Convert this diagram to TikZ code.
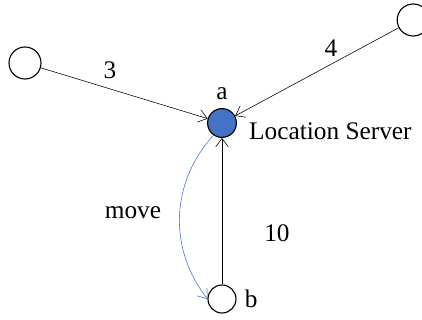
\documentclass[tikz,border=0pt]{standalone}
\usepackage{fontspec}
\setmainfont{Liberation Serif}
\usetikzlibrary{arrows.meta,positioning}

\definecolor{serverblue}{RGB}{68,114,196}
\tikzset{
  host/.style={circle,draw,thick,minimum size=0.8cm,inner sep=0pt},
  server/.style={host,fill=serverblue,minimum size=0.72cm},
  link/.style={-{Straight Barb[length=6pt,width=9pt]}},
}

\begin{document}
\begin{tikzpicture}[font=\fontsize{18}{21}\selectfont]
      \clip (0,0) rectangle (10.55,8);
      \useasboundingbox (0,0) rectangle (10.55,8);
      % Hosts
      \node[server,label={[inner sep=0pt,label distance=6pt]above:a}] (a) at (5.55,4.925) {};
      \node[host] (left) at (0.625,6.425) {};
      \node[host] (right) at (10.33,7.5) {};
      \node[host,minimum size=0.7cm] (b) at (5.55,0.525) {};
      \node[right=0.3cm of a,anchor=west,yshift=-0.2cm,inner sep=0pt] (ls) {Location Server};
      \node[right=0.2cm of b,inner sep=0pt] (blab) {b};
      % Links to the server
      \draw[link] (left) -- (a);
      \draw[link] (right) -- (a);
      \draw[link] (b) -- (a);
      % Move of a
      \draw[link,serverblue] (a.235) to[bend right=40] (b.west);
      % Weights
      \node (w3) at (2.75,6.25) {3};
      \node (w4) at (8.275,6.8) {4};
      \node (w10) at (6.925,2.175) {10};
      \node (mv) at (3.325,2.675) {move};
\end{tikzpicture}
\end{document}
